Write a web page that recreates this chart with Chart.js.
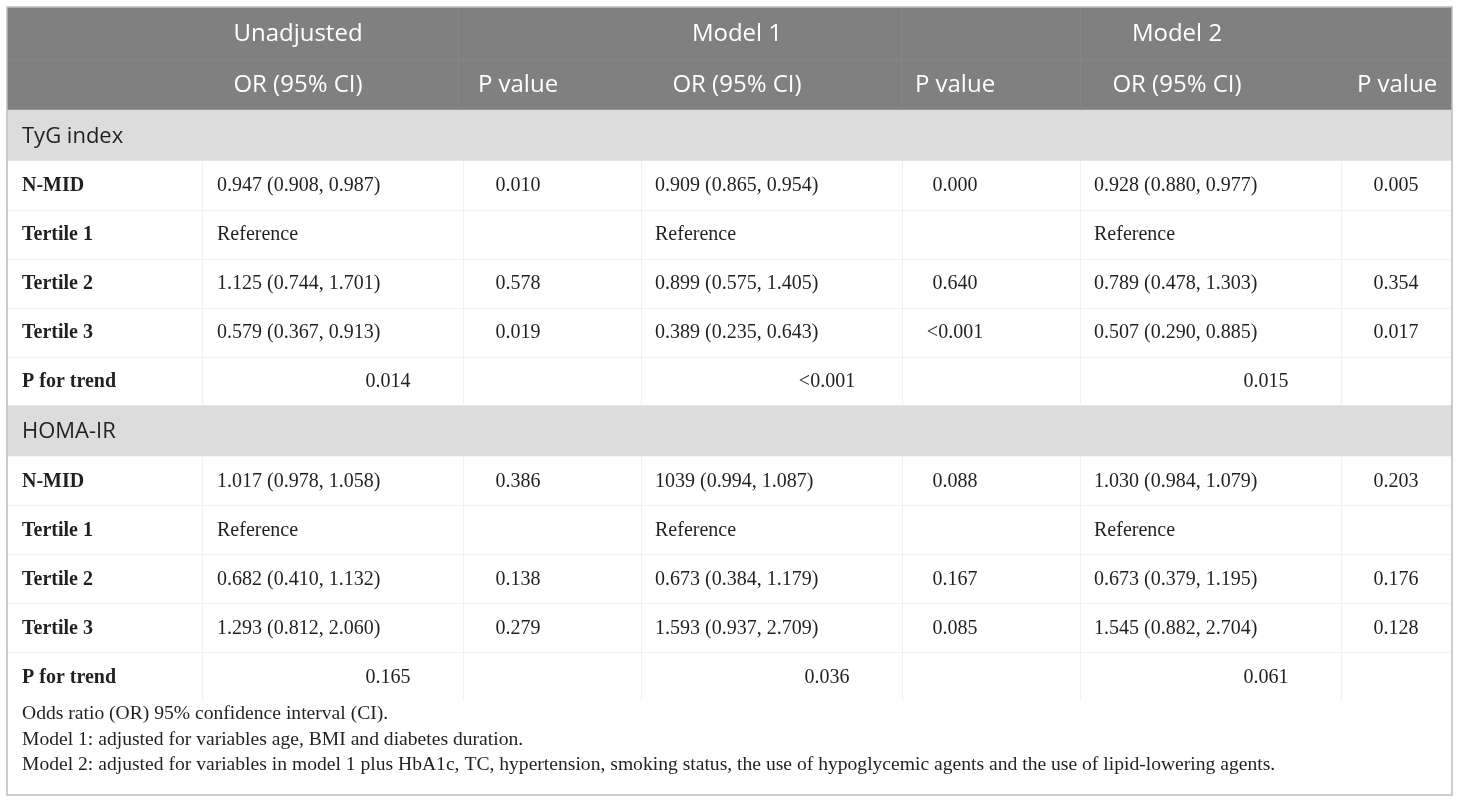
<!DOCTYPE html>
<html><head><meta charset="utf-8">
<script src="https://cdn.jsdelivr.net/npm/chart.js@4"></script>
<style>html,body{margin:0;padding:0;background:#fff;} #wrap{width:1460px;height:803px;position:relative;}</style>
</head><body><div id="wrap"><canvas id="c"></canvas></div>
<script>
// ---------- data ----------
const models = ['Unadjusted', 'Model 1', 'Model 2'];
const subHeaders = ['OR (95% CI)', 'P value'];
const sections = ['TyG index', 'HOMA-IR'];
const rowLabels = ['N-MID', 'Tertile 1', 'Tertile 2', 'Tertile 3', 'P for trend'];

const tygUnadjustedOR = ['0.947 (0.908, 0.987)', 'Reference', '1.125 (0.744, 1.701)', '0.579 (0.367, 0.913)'];
const tygUnadjustedP  = ['0.010', '', '0.578', '0.019'];
const tygModel1OR = ['0.909 (0.865, 0.954)', 'Reference', '0.899 (0.575, 1.405)', '0.389 (0.235, 0.643)'];
const tygModel1P  = ['0.000', '', '0.640', '<0.001'];
const tygModel2OR = ['0.928 (0.880, 0.977)', 'Reference', '0.789 (0.478, 1.303)', '0.507 (0.290, 0.885)'];
const tygModel2P  = ['0.005', '', '0.354', '0.017'];
const tygTrend = ['0.014', '<0.001', '0.015'];

const homaUnadjustedOR = ['1.017 (0.978, 1.058)', 'Reference', '0.682 (0.410, 1.132)', '1.293 (0.812, 2.060)'];
const homaUnadjustedP  = ['0.386', '', '0.138', '0.279'];
const homaModel1OR = ['1039 (0.994, 1.087)', 'Reference', '0.673 (0.384, 1.179)', '1.593 (0.937, 2.709)'];
const homaModel1P  = ['0.088', '', '0.167', '0.085'];
const homaModel2OR = ['1.030 (0.984, 1.079)', 'Reference', '0.673 (0.379, 1.195)', '1.545 (0.882, 2.704)'];
const homaModel2P  = ['0.203', '', '0.176', '0.128'];
const homaTrend = ['0.165', '0.036', '0.061'];

const footnotes = [
  'Odds ratio (OR) 95% confidence interval (CI).',
  'Model 1: adjusted for variables age, BMI and diabetes duration.',
  'Model 2: adjusted for variables in model 1 plus HbA1c, TC, hypertension, smoking status, the use of hypoglycemic agents and the use of lipid-lowering agents.'
];

// ---------- table structure built from the arrays ----------
const sectionData = [
  {or: [tygUnadjustedOR, tygModel1OR, tygModel2OR], p: [tygUnadjustedP, tygModel1P, tygModel2P], trend: tygTrend},
  {or: [homaUnadjustedOR, homaModel1OR, homaModel2OR], p: [homaUnadjustedP, homaModel1P, homaModel2P], trend: homaTrend}
];
const tableRows = [{kind: 'head1'}, {kind: 'head2'}];
sections.forEach((s, si) => {
  tableRows.push({kind: 'section', label: s});
  for (let r = 0; r < 4; r++) {
    tableRows.push({kind: 'body', label: rowLabels[r],
      or: sectionData[si].or.map(a => a[r]), p: sectionData[si].p.map(a => a[r])});
  }
  tableRows.push({kind: 'trend', label: rowLabels[4], trend: sectionData[si].trend});
});

// ---------- layout (table units along the scales) ----------
const TABLE_W = 1445, TABLE_H = 788;
const ROW_H = {head1: 52, head2: 51, section: 50.5, body: 49, trend: 49};
const LAYOUT = {
  labelX: 15,
  orLeft: [210, 648, 1087],
  pCenter: [511, 948, 1389],
  trendCenter: [381, 820, 1259],
  headCenter: [291, 730, 1170],
  pHeadCenter: [511, 948, 1390],
  bodyEdges: [195, 456, 634, 895, 1073, 1334],
  headEdges: [451, 894, 1073],
  footTop: 13, footStep: 25.5
};
let acc = 0;
tableRows.forEach(r => { r.top = acc; acc += ROW_H[r.kind]; r.bottom = acc; });
const TABLE_BODY_END = acc;

const HEAD_BG = '#808080', SECTION_BG = '#dcdcdc', TEXT = '#231f20';
const SANS = '"Open Sans", "DejaVu Sans", sans-serif';
const SERIF = '"Liberation Serif", "DejaVu Serif", serif';

const tablePlugin = {
  id: 'tableText',
  afterDatasetsDraw(chart) {
    const {ctx, scales: {xt, y}} = chart;
    const X = v => xt.getPixelForValue(v);
    const Y = v => y.getPixelForValue(v);
    const hline = (x0, x1, yy) => { ctx.beginPath(); ctx.moveTo(X(x0), Math.round(Y(yy)) + 0.5); ctx.lineTo(X(x1), Math.round(Y(yy)) + 0.5); ctx.stroke(); };
    const vline = (xx, y0, y1) => { ctx.beginPath(); ctx.moveTo(Math.round(X(xx)) + 0.5, Y(y0)); ctx.lineTo(Math.round(X(xx)) + 0.5, Y(y1)); ctx.stroke(); };
    ctx.save();
    ctx.lineWidth = 1;
    tableRows.forEach(row => {
      if (row.kind === 'head1' || row.kind === 'head2') {
        ctx.strokeStyle = '#868686';
        LAYOUT.headEdges.forEach(e => vline(e, row.top, row.bottom));
        if (row.kind === 'head1') hline(0, TABLE_W, row.bottom);
      } else if (row.kind === 'body' || row.kind === 'trend') {
        ctx.strokeStyle = '#f1f1f1';
        LAYOUT.bodyEdges.forEach(e => vline(e, row.top, row.bottom));
        if (row.kind === 'body') hline(0, TABLE_W, row.bottom);
      }
    });
    ctx.textBaseline = 'middle';
    tableRows.forEach(row => {
      const cy = Y((row.top + row.bottom) / 2) + 1;
      if (row.kind === 'head1') {
        ctx.fillStyle = '#ffffff'; ctx.font = '24px ' + SANS; ctx.textAlign = 'center';
        models.forEach((m, k) => ctx.fillText(m, X(LAYOUT.headCenter[k]), cy));
      } else if (row.kind === 'head2') {
        ctx.fillStyle = '#ffffff'; ctx.font = '24px ' + SANS; ctx.textAlign = 'center';
        for (let k = 0; k < 3; k++) {
          ctx.fillText(subHeaders[0], X(LAYOUT.headCenter[k]), cy);
          ctx.fillText(subHeaders[1], X(LAYOUT.pHeadCenter[k]), cy);
        }
      } else if (row.kind === 'section') {
        ctx.fillStyle = TEXT; ctx.font = '22px ' + SANS; ctx.textAlign = 'left';
        ctx.fillText(row.label, X(LAYOUT.labelX), cy);
      } else {
        ctx.fillStyle = TEXT; ctx.font = 'bold 20px ' + SERIF; ctx.textAlign = 'left';
        ctx.fillText(row.label, X(LAYOUT.labelX), cy);
        ctx.font = '20px ' + SERIF;
        if (row.kind === 'body') {
          for (let k = 0; k < 3; k++) {
            ctx.textAlign = 'left'; ctx.fillText(row.or[k], X(LAYOUT.orLeft[k]), cy);
            ctx.textAlign = 'center'; ctx.fillText(row.p[k], X(LAYOUT.pCenter[k]), cy);
          }
        } else {
          ctx.textAlign = 'center';
          row.trend.forEach((t, k) => ctx.fillText(t, X(LAYOUT.trendCenter[k]), cy));
        }
      }
    });
    ctx.font = '19.6px ' + SERIF; ctx.textAlign = 'left'; ctx.fillStyle = TEXT;
    footnotes.forEach((f, k) => ctx.fillText(f, X(LAYOUT.labelX), Y(TABLE_BODY_END + LAYOUT.footTop + k * LAYOUT.footStep)));
    ctx.strokeStyle = '#bdbdbd'; ctx.lineWidth = 1.5;
    ctx.strokeRect(X(0), Y(0), X(TABLE_W) - X(0), Y(TABLE_H) - Y(0));
    ctx.restore();
  }
};

new Chart(document.getElementById('c'), {
  type: 'bar',
  data: {
    labels: ['table'],
    datasets: [{
      data: tableRows.map(r => ({x: 'table', y: [r.top, r.bottom]})),
      backgroundColor: tableRows.map(r => r.kind.startsWith('head') ? HEAD_BG : r.kind === 'section' ? SECTION_BG : 'rgba(0,0,0,0)'),
      borderWidth: 0,
      barPercentage: 1,
      categoryPercentage: 1
    }]
  },
  options: {
    responsive: true,
    maintainAspectRatio: false,
    animation: false,
    layout: {padding: {left: 7, right: 8, top: 7, bottom: 8}},
    scales: {
      x: {type: 'category', display: false, offset: true},
      xt: {type: 'linear', axis: 'x', position: 'bottom', min: 0, max: TABLE_W, offset: false, display: false},
      y: {type: 'linear', reverse: true, min: 0, max: TABLE_H, display: false}
    },
    plugins: {legend: {display: false}, tooltip: {enabled: false}}
  },
  plugins: [tablePlugin]
});
</script>
</body></html>
